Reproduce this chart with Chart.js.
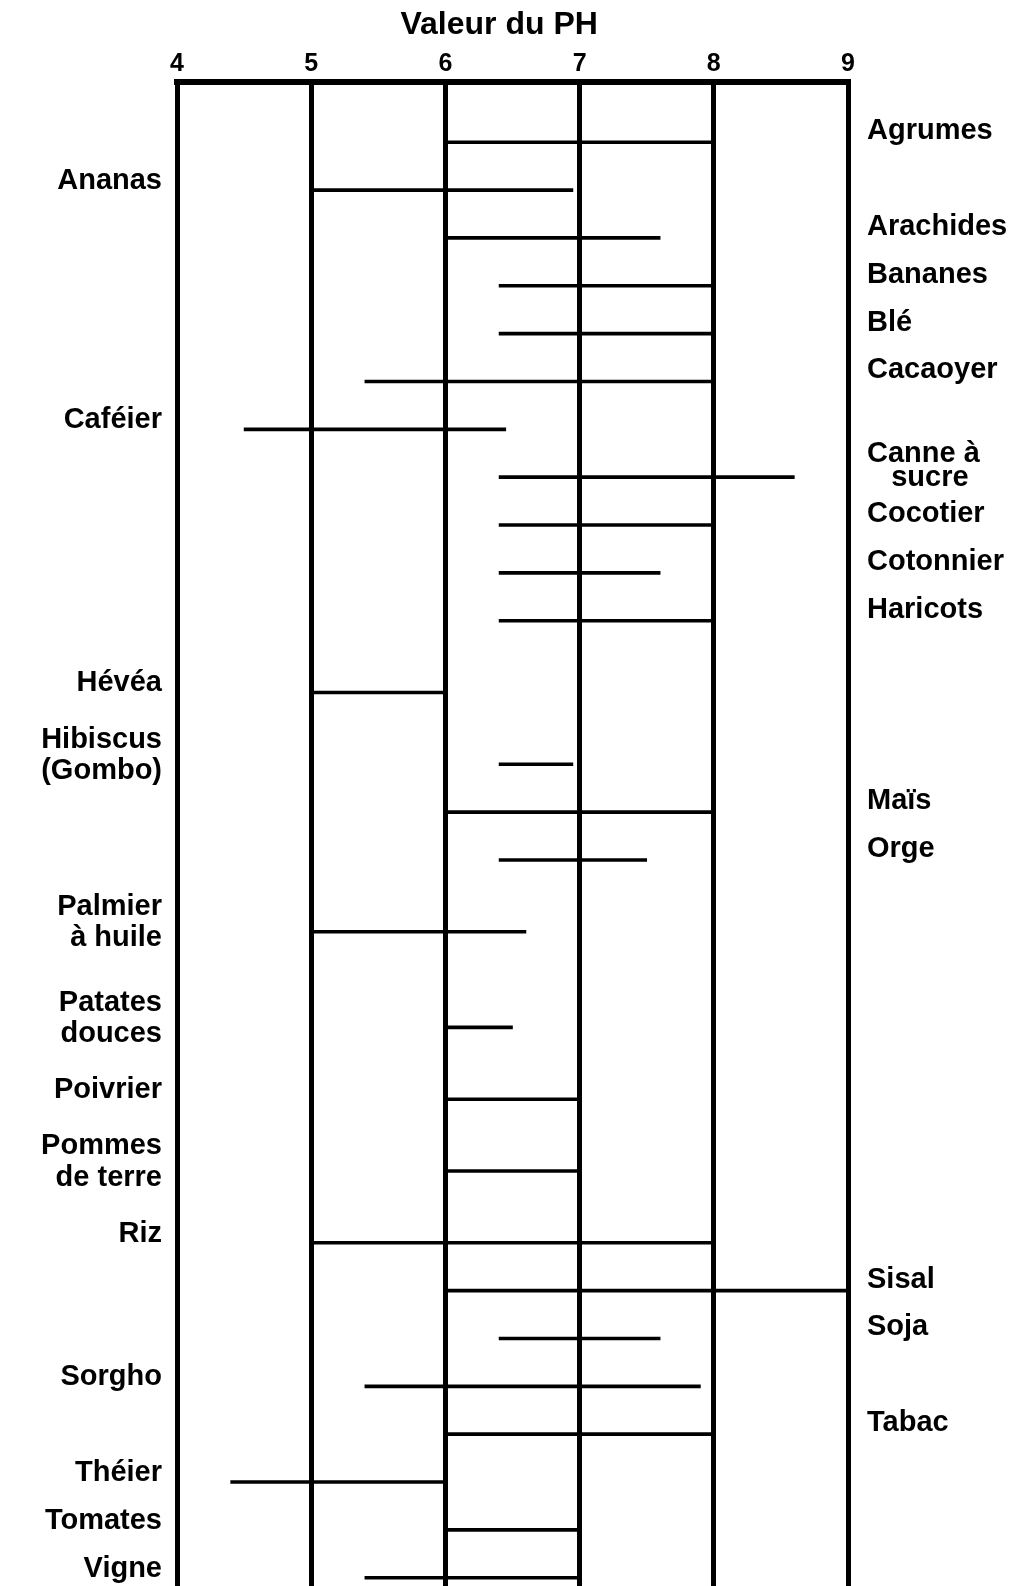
<!DOCTYPE html>
<html>
<head>
<meta charset="utf-8">
<script src="https://cdn.jsdelivr.net/npm/chart.js@4/dist/chart.umd.min.js"></script>
<style>
    body { margin: 0; background: #fff; overflow: hidden; }
</style>
</head>
<body>
<!-- le bas du tableau est coupé dans l'original : le canvas dépasse la fenêtre -->
<canvas id="graficaPH" width="1026" height="1613"></canvas>
<script>
// cultures et plages de pH
const cultures = ['Agrumes', 'Ananas', 'Arachides', 'Bananes', 'Blé', 'Cacaoyer', 'Caféier',
    ['Canne à', '   sucre'], 'Cocotier', 'Cotonnier', 'Haricots', 'Hévéa', ['Hibiscus', '(Gombo)'],
    'Maïs', 'Orge', ['Palmier', 'à huile'], ['Patates', 'douces'], 'Poivrier', ['Pommes', 'de terre'],
    'Riz', 'Sisal', 'Soja', 'Sorgho', 'Tabac', 'Théier', 'Tomates', 'Vigne'];
const phMin = [6, 5, 6, 6.4, 6.4, 5.4, 4.5, 6.4, 6.4, 6.4, 6.4, 5, 6.4, 6, 6.4, 5, 6, 6, 6, 5, 6, 6.4, 5.4, 6, 4.4, 6, 5.4];
const phMax = [8, 6.95, 7.6, 8, 8, 8, 6.45, 8.6, 8, 7.6, 8, 6, 6.95, 8, 7.5, 6.6, 6.5, 7, 7, 8, 9, 7.6, 7.9, 8, 6, 7, 7];
// cote du nom : g = gauche, d = droite
const cote = ['d', 'g', 'd', 'd', 'd', 'd', 'g', 'd', 'd', 'd', 'd', 'g', 'g', 'd', 'd', 'g', 'g', 'g', 'g', 'g', 'd', 'd', 'g', 'd', 'g', 'g', 'g'];
// rang de la ligne (en demi-lignes) dans le tableau d'origine
const rang = [0, 2, 4, 6, 8, 10, 12, 14, 16, 18, 20, 23, 26, 28, 30, 33, 37, 40, 43, 46, 48, 50, 52, 54, 56, 58, 60];
const phTicks = [4, 5, 6, 7, 8, 9];

function main() {
    const debut = 2; // lignes vides au-dessus
    const nbLignes = debut + rang[rang.length - 1] + 1;
    const etiquettesG = new Array(nbLignes).fill('');
    const etiquettesD = new Array(nbLignes).fill('');
    const plages = new Array(nbLignes).fill(null);

    cultures.forEach((nom, i) => {
        const k = debut + rang[i];
        if (cote[i] === 'g') etiquettesG[k] = nom; else etiquettesD[k] = nom;
        plages[k] = [phMin[i], phMax[i]];
    });

    const ctx = document.getElementById('graficaPH').getContext('2d');

    new Chart(ctx, {
        type: 'bar',
        data: {
            labels: etiquettesG,
            datasets: [{
                data: plages,
                backgroundColor: '#000',
                borderWidth: 0,
                barThickness: 3,
                yAxisID: 'y'
            }]
        },
        options: {
            indexAxis: 'y',
            responsive: false,
            animation: false,
            layout: { padding: { top: 6, bottom: 0, left: 0, right: 0 } },
            plugins: { legend: { display: false }, tooltip: { enabled: false } },
            scales: {
                x: {
                    position: 'top',
                    min: 4,
                    max: 9,
                    afterBuildTicks: (axis) => { axis.ticks = phTicks.map(v => ({ value: v })); },
                    ticks: {
                        color: '#000',
                        padding: 3,
                        font: { family: 'Liberation Sans', size: 25, weight: 'bold' }
                    },
                    grid: { color: '#000', lineWidth: 5, drawTicks: false },
                    border: { display: true, color: '#000', width: 6 },
                    title: {
                        display: true,
                        text: 'Valeur du PH   ',
                        color: '#000',
                        padding: { top: 0, bottom: 2 },
                        font: { family: 'Liberation Sans', size: 32, weight: 'bold' }
                    }
                },
                y: {
                    type: 'category',
                    position: 'left',
                    offset: true,
                    afterFit: (scale) => { scale.width = 177; },
                    grid: { display: false },
                    border: { display: false },
                    ticks: {
                        autoSkip: false,
                        color: '#000',
                        padding: 7,
                        labelOffset: -9,
                        font: { family: 'Liberation Sans', size: 29, weight: 'bold', lineHeight: 1.08 }
                    }
                },
                y2: {
                    type: 'category',
                    position: 'right',
                    labels: etiquettesD,
                    offset: true,
                    afterFit: (scale) => { scale.width = 178; },
                    grid: { display: false },
                    border: { display: false },
                    ticks: {
                        autoSkip: false,
                        color: '#000',
                        padding: 11,
                        labelOffset: -11,
                        font: { family: 'Liberation Sans', size: 29, weight: 'bold', lineHeight: 0.85 }
                    }
                }
            }
        }
    });
}

document.addEventListener('DOMContentLoaded', function() {
    main();
});
</script>
</body>
</html>
